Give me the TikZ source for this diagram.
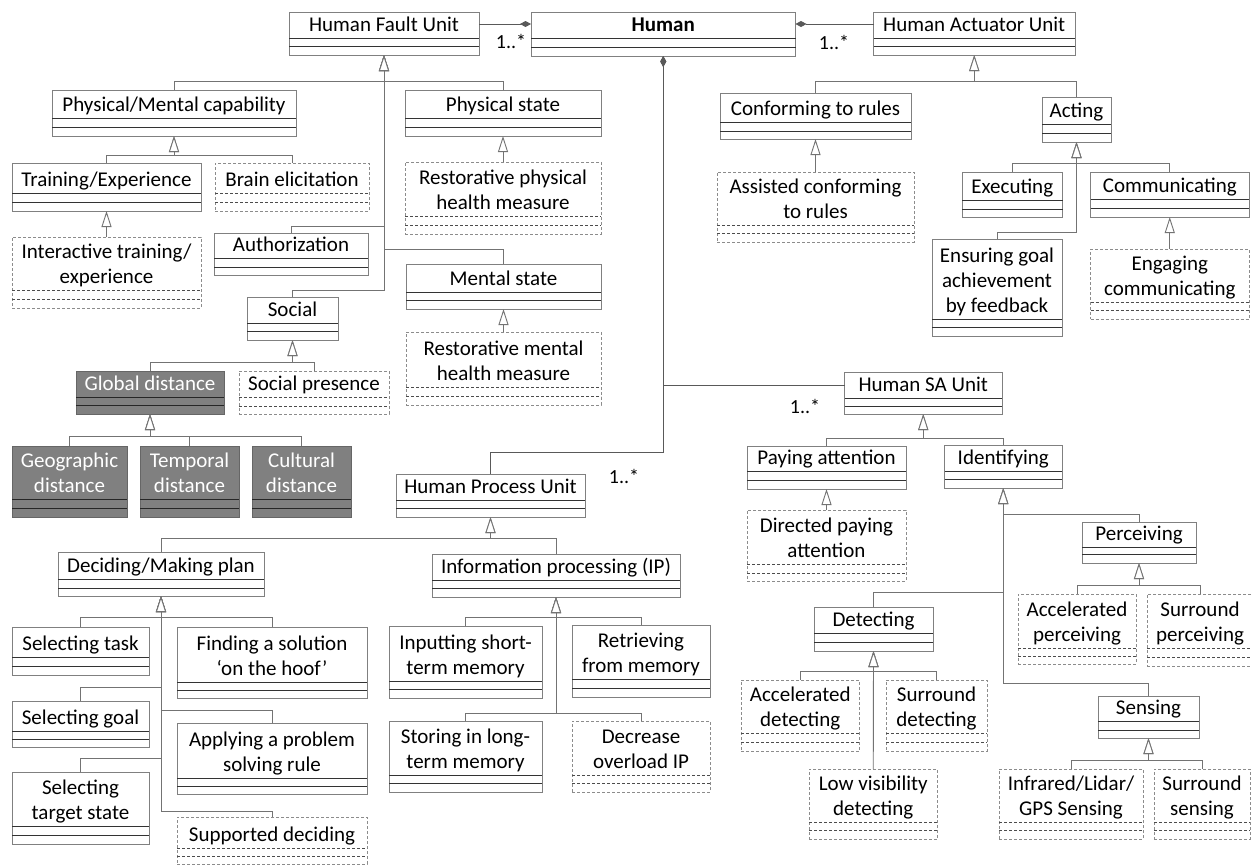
\documentclass[tikz,border=0pt]{standalone}
\usepackage{fontspec}
\setmainfont{Carlito}
\usetikzlibrary{arrows.meta}
\tikzset{
  base/.style={inner sep=0, outer sep=0, line width=0.9pt},
  cls/.style={base, draw=black!50, fill=white},
  cls sep/.style={line width=0.9pt, draw=black!80},
  cls txt/.style={inner sep=0, font=\fontsize{21}{25}\selectfont, align=center, text=black},
  dcls/.style={base, draw=black!45, dash pattern=on 3pt off 2pt, fill=white},
  dcls sep/.style={line width=0.9pt, draw=black!70, dash pattern=on 3pt off 2pt},
  dcls txt/.style={cls txt},
  gcls/.style={base, draw=black!60, fill=black!50},
  gcls sep/.style={line width=0.9pt, draw=black!85},
  gcls txt/.style={cls txt, text=white},
  gen/.style={line width=0.9pt, draw=black!55, -{Triangle[length=16pt,width=10pt,fill=white,line width=0.9pt]}},
  comp/.style={line width=0.9pt, draw=black!65, -{Diamond[length=11pt,width=6pt]}},
  rcomp/.style={line width=0.9pt, draw=black!65, {Diamond[length=11pt,width=6pt]}-},
  mult/.style={inner sep=0, font=\fontsize{20}{24}\selectfont},
}
% name, kind, left, top, right, bottom, line1, line2, text
\newcommand\umlcls[9]{%
  \node[#2, anchor=north west, minimum width={(#5-#3)*1pt}, minimum height={(#6-#4)*1pt}] (#1) at (#3,#4) {};
  \draw[#2 sep] (#3,#7) -- (#5,#7) (#3,#8) -- (#5,#8);
  \node[#2 txt, anchor=south] at ({(#3+#5)/2},{#7+1.5}) {#9\strut};
}
\newcommand\genlink[3]{\draw[gen] (#1.north) |- ([yshift=#3pt]#2.south) -- (#2.south);}
\newcommand\genline[2]{\draw[gen] (#1.north) -- (#2.south);}
\begin{document}
\begin{tikzpicture}[x=1pt,y=-1pt]
\fill[white] (0,0) rectangle (1252,865);
\useasboundingbox (0,0) rectangle (1252,865);
% top row
\umlcls{human}{cls}{531}{12}{795.5}{56}{38}{47}{\textbf{Human}}
\umlcls{hfu}{cls}{289}{12}{479}{55}{38}{46}{Human Fault Unit}
\umlcls{hau}{cls}{873.5}{12}{1075}{55}{38}{46}{Human Actuator Unit}
% fault subtree
\umlcls{pmc}{cls}{52}{90}{296}{136}{118}{127}{Physical/Mental capability}
\umlcls{train}{cls}{12}{163}{201}{211}{193}{202}{Training/Experience}
\umlcls{brain}{dcls}{215}{163}{369}{211}{193}{202}{Brain elicitation}
\umlcls{itrain}{dcls}{12}{237}{201}{308}{290}{299}{Interactive training/\\experience}
\umlcls{auth}{cls}{214}{233}{368}{275}{258}{267}{Authorization}
\umlcls{social}{cls}{247}{297}{338}{340}{323}{331}{Social}
\umlcls{glob}{gcls}{76}{371}{224}{414}{397}{405}{Global distance}
\umlcls{spres}{dcls}{239}{371}{389}{414}{397}{406}{Social presence}
\umlcls{geo}{gcls}{12}{446}{127}{517}{499}{508}{Geographic\\distance}
\umlcls{temp}{gcls}{140}{446}{239}{517}{499}{508}{Temporal\\distance}
\umlcls{cult}{gcls}{252}{446}{351}{517}{499}{508}{Cultural\\distance}
\umlcls{pstate}{cls}{405}{90}{601}{136}{118}{127}{Physical state}
\umlcls{rphm}{dcls}{405}{162}{601}{234}{216}{225}{Restorative physical\\health measure}
\umlcls{mstate}{cls}{406}{264}{601}{309}{292}{300}{Mental state}
\umlcls{rmhm}{dcls}{406}{332}{601}{405}{387}{396}{Restorative mental\\health measure}
% actuator subtree
\umlcls{conf}{cls}{720}{93}{911}{139}{122}{131}{Conforming to rules}
\umlcls{aconf}{dcls}{717}{172}{914}{242}{225}{233}{Assisted conforming\\to rules}
\umlcls{act}{cls}{1042}{97}{1111}{142}{124}{133}{Acting}
\umlcls{exec}{cls}{962}{172}{1062.5}{217}{200}{209}{Executing}
\umlcls{comm}{cls}{1090.5}{172}{1249}{217}{199}{208}{Communicating}
\umlcls{ens}{cls}{932}{239}{1062}{336}{319}{327}{Ensuring goal\\achievement\\by feedback}
\umlcls{engc}{dcls}{1090.5}{249}{1249}{319}{302}{310}{Engaging\\communicating}
% process subtree
\umlcls{hpu}{cls}{396}{474}{585}{517}{500}{508}{Human Process Unit}
\umlcls{dec}{cls}{58}{552}{264}{596}{579}{588}{Deciding/Making plan}
\umlcls{ip}{cls}{432}{554}{680}{597}{580}{588}{Information processing (IP)}
\umlcls{seltask}{cls}{12}{627}{149}{675}{657}{666}{Selecting task}
\umlcls{find}{cls}{177}{627}{367}{698}{682}{690}{Finding a solution\\‘on the hoof’}
\umlcls{selgoal}{cls}{12}{701}{149}{747}{731}{739}{Selecting goal}
\umlcls{apply}{cls}{177}{723}{367}{794}{778}{786}{Applying a problem\\solving rule}
\umlcls{seltarget}{cls}{12}{772}{149}{844}{826}{835}{Selecting\\target state}
\umlcls{supp}{dcls}{177}{817}{367}{864}{848}{856}{Supported deciding}
\umlcls{inp}{cls}{389}{626}{542}{698}{681}{689}{Inputting short-\\term memory}
\umlcls{retr}{cls}{572}{625}{710}{697}{679}{688}{Retrieving\\from memory}
\umlcls{stor}{cls}{389}{721}{542}{792}{775}{783}{Storing in long-\\term memory}
\umlcls{decr}{dcls}{572}{721}{710}{792}{775}{783}{Decrease\\overload IP}
% SA subtree
\umlcls{sa}{cls}{844.5}{372}{1002}{414}{398}{406}{Human SA Unit}
\umlcls{pay}{cls}{747}{446}{906}{489}{471}{480}{Paying attention}
\umlcls{ident}{cls}{944.5}{445}{1062}{488}{471}{479}{Identifying}
\umlcls{dpay}{dcls}{747}{510}{906}{581}{564}{573}{Directed paying\\attention}
\umlcls{perc}{cls}{1082}{522}{1196}{563}{547}{554}{Perceiving}
\umlcls{aperc}{dcls}{1018}{594}{1136}{664}{648}{656}{Accelerated\\perceiving}
\umlcls{sperc}{dcls}{1147}{594}{1253}{666}{648}{657}{Surround\\perceiving}
\umlcls{det}{cls}{814}{607}{933}{651}{633}{642}{Detecting}
\umlcls{adet}{dcls}{741}{680}{859.5}{751}{733}{742}{Accelerated\\detecting}
\umlcls{sdet}{dcls}{886}{680}{987}{751}{733}{742}{Surround\\detecting}
\umlcls{lowv}{dcls}{809}{769}{937.5}{839}{822}{830}{Low visibility\\detecting}
\umlcls{sens}{cls}{1098}{696}{1199}{738}{721}{730}{Sensing}
\umlcls{infr}{dcls}{999}{769}{1143}{839}{822}{830}{Infrared/Lidar/\\GPS Sensing}
\umlcls{ssens}{dcls}{1154}{769}{1250}{839}{822}{830}{Surround\\sensing}
% compositions
\draw[comp] ([yshift=-12pt]hfu.north east) -- ([yshift=-12pt]human.north west);
\draw[comp] ([yshift=-12pt]hau.north west) -- ([yshift=-12pt]human.north east);
\draw[rcomp] (human.south) |- ([yshift=-13pt]sa.north west);
\draw[rcomp] (human.south) |- ([yshift=22pt]hpu.north) -- (hpu.north);
\node[mult] (m1) at (511,41) {1..*};
\node[mult] (m2) at (834,42) {1..*};
\node[mult] (m3) at (624,476) {1..*};
\node[mult] (m4) at (805,406) {1..*};
% generalizations: fault
\genlink{pmc}{hfu}{-26}
\genlink{pstate}{hfu}{-26}
\genlink{auth}{hfu}{-171}
\genlink{mstate}{hfu}{-194}
\genlink{social}{hfu}{-235}
\genlink{train}{pmc}{-19}
\genlink{brain}{pmc}{-19}
\genline{itrain}{train}
\genline{rphm}{pstate}
\genline{rmhm}{mstate}
\genlink{glob}{social}{-22}
\genlink{spres}{social}{-22}
\genlink{geo}{glob}{-22}
\genlink{temp}{glob}{-22}
\genlink{cult}{glob}{-22}
% actuator
\genlink{conf}{hau}{-26}
\genlink{act}{hau}{-26}
\genline{aconf}{conf}
\genlink{exec}{act}{-21}
\genlink{comm}{act}{-21}
\genlink{ens}{act}{-90}
\genline{engc}{comm}
% process
\genlink{dec}{hpu}{-21}
\genlink{ip}{hpu}{-21}
\genlink{seltask}{dec}{-21}
\genlink{find}{dec}{-21}
\genlink{selgoal}{dec}{-91}
\genlink{apply}{dec}{-114}
\genlink{seltarget}{dec}{-162}
\genlink{supp}{dec}{-215}
\genlink{inp}{ip}{-20}
\genlink{retr}{ip}{-20}
\genlink{stor}{ip}{-116}
\genlink{decr}{ip}{-116}
% SA
\genlink{pay}{sa}{-24}
\genlink{ident}{sa}{-24}
\genline{dpay}{pay}
\genlink{perc}{ident}{-26}
\genlink{det}{ident}{-104}
\genlink{sens}{ident}{-195}
\genlink{aperc}{perc}{-22}
\genlink{sperc}{perc}{-22}
\genlink{adet}{det}{-20}
\genlink{sdet}{det}{-20}
\genline{lowv}{det}
\genlink{infr}{sens}{-22}
\genlink{ssens}{sens}{-22}
\end{tikzpicture}
\end{document}
